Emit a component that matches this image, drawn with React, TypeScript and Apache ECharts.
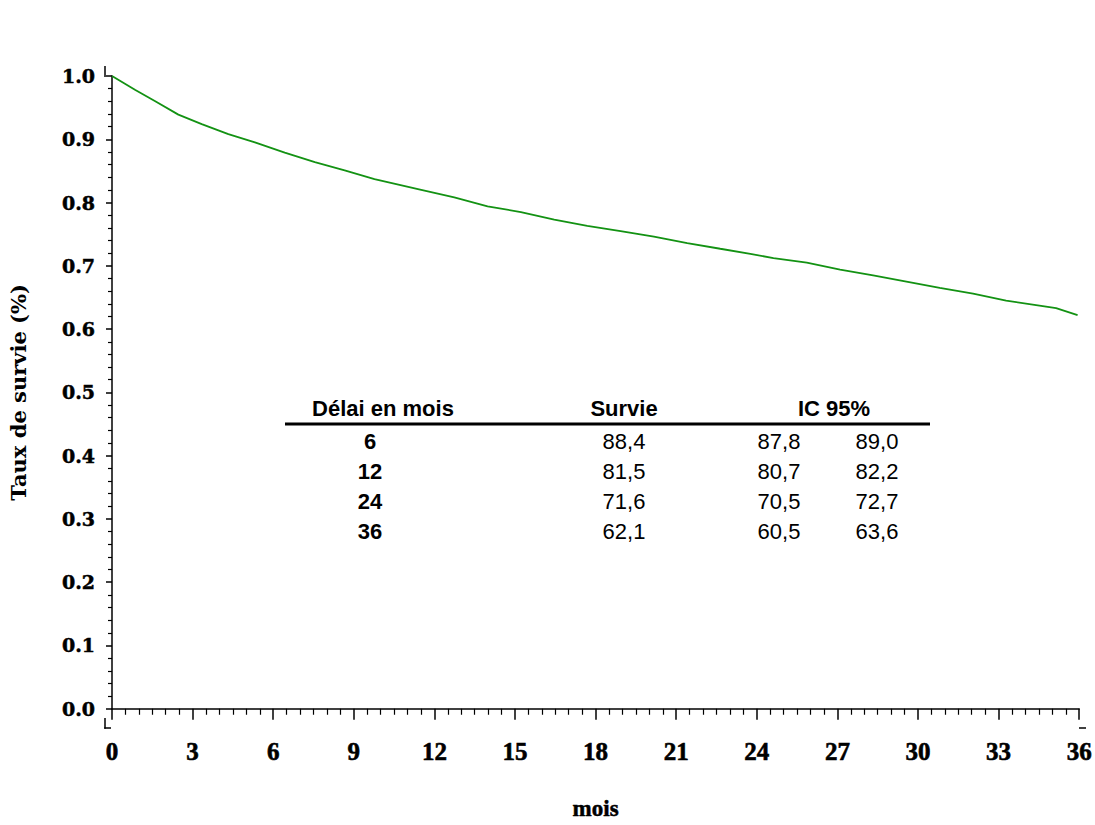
import React, { useEffect, useRef } from "react";
import * as echarts from "echarts";

const months = [0, 0.87, 1.61, 2.47, 3.34, 4.33, 5.32, 6.43, 7.55, 8.66, 9.77, 11.51, 12.74, 13.98, 15.22, 16.46, 17.69, 18.93, 20.17, 21.41, 22.64, 23.76, 24.62, 25.86, 27.1, 28.33, 29.57, 30.81, 32.05, 33.28, 34.52, 35.14, 35.94];
const survival = [1.0, 0.978, 0.96, 0.939, 0.924, 0.908, 0.895, 0.879, 0.864, 0.851, 0.837, 0.82, 0.808, 0.794, 0.785, 0.773, 0.763, 0.755, 0.746, 0.736, 0.727, 0.719, 0.712, 0.705, 0.694, 0.685, 0.675, 0.665, 0.656, 0.645, 0.637, 0.633, 0.622];

const tableHeaders = ["Délai en mois", "Survie", "IC 95%"];
const tableDelays = ["6", "12", "24", "36"];
const tableSurvie = ["88,4", "81,5", "71,6", "62,1"];
const tableLower = ["87,8", "80,7", "70,5", "60,5"];
const tableUpper = ["89,0", "82,2", "72,7", "63,6"];

const SERIF = "'Liberation Serif', 'DejaVu Serif', serif";
const WIDE_SERIF = "'DejaVu Serif', 'Liberation Serif', serif";
const SANS = "'Liberation Sans', Arial, sans-serif";

export default function App() {
  const ref = useRef<HTMLDivElement>(null);
  useEffect(() => {
    if (!ref.current) return;
    const chart = echarts.init(ref.current, null, { renderer: "svg" });

    const tableEls: any[] = [];
    const colX = [370, 624, 779, 877];
    const headerY = 408;
    const rowY0 = 441;
    const rowStep = 30.3;
    const fs = 22;
    const txt = (text: string, x: number, y: number, bold: boolean) => ({
      type: "text",
      x,
      y,
      style: { text, font: `${bold ? "bold " : ""}${fs}px ${SANS}`, fill: "#000", textAlign: "center", textVerticalAlign: "middle" },
    });
    tableEls.push(txt(tableHeaders[0], 383, headerY, true));
    tableEls.push(txt(tableHeaders[1], colX[1], headerY, true));
    tableEls.push(txt(tableHeaders[2], 834, headerY, true));
    tableEls.push({ type: "line", shape: { x1: 285, y1: 424, x2: 930, y2: 424 }, style: { stroke: "#000", lineWidth: 3 } });
    tableDelays.forEach((d, i) => {
      const y = rowY0 + i * rowStep;
      tableEls.push(txt(d, colX[0], y, true));
      tableEls.push(txt(tableSurvie[i], colX[1], y, false));
      tableEls.push(txt(tableLower[i], colX[2], y, false));
      tableEls.push(txt(tableUpper[i], colX[3], y, false));
    });

    const axisExt = [
      { type: "line", shape: { x1: 105, y1: 66, x2: 105, y2: 77 }, style: { stroke: "#000", lineWidth: 1.5 } },
      { type: "line", shape: { x1: 105, y1: 718, x2: 105, y2: 728.75 }, style: { stroke: "#000", lineWidth: 1.5 } },
      { type: "line", shape: { x1: 104.25, y1: 728, x2: 111, y2: 728 }, style: { stroke: "#000", lineWidth: 1.5 } },
      { type: "line", shape: { x1: 1079, y1: 728, x2: 1086, y2: 728 }, style: { stroke: "#000", lineWidth: 1.5 } },
    ];

    chart.setOption({
      animation: false,
      backgroundColor: "#fff",
      grid: { left: 110, right: 15, top: 76, bottom: 106, containLabel: false },
      xAxis: {
        type: "value",
        min: 0,
        max: 36,
        interval: 3,
        offset: 9,
        name: "mois",
        nameLocation: "middle",
        nameGap: 79,
        nameTextStyle: { fontFamily: SERIF, fontWeight: "bold", fontSize: 23, color: "#000", textBorderColor: "#000", textBorderWidth: 0.5 },
        axisLine: { show: true, lineStyle: { color: "#000", width: 1.5 } },
        axisTick: { show: true, length: 11, lineStyle: { color: "#000", width: 1.5 } },
        minorTick: { show: true, splitNumber: 6, length: 6, lineStyle: { color: "#000", width: 1.2 } },
        axisLabel: { fontFamily: SERIF, fontWeight: "bold", fontSize: 25, color: "#000", margin: 21, textBorderColor: "#000", textBorderWidth: 0.6 },
        splitLine: { show: false },
      },
      yAxis: {
        type: "value",
        min: 0,
        max: 1,
        interval: 0.1,
        offset: 5,
        name: "Taux de survie (%)",
        nameLocation: "middle",
        nameGap: 78,
        nameRotate: 90,
        nameTextStyle: { fontFamily: WIDE_SERIF, fontWeight: "bold", fontSize: 21, color: "#000" },
        axisLine: { show: true, lineStyle: { color: "#000", width: 1.5 } },
        axisTick: { show: true, length: 6, lineStyle: { color: "#000", width: 1.5 } },
        minorTick: { show: true, splitNumber: 5, length: 4, lineStyle: { color: "#000", width: 1.2 } },
        axisLabel: { fontFamily: WIDE_SERIF, fontWeight: "bold", fontSize: 19, color: "#000", margin: 12, textBorderColor: "#000", textBorderWidth: 0.5, formatter: (v: number) => v.toFixed(1) },
        splitLine: { show: false },
      },
      series: [
        {
          type: "line",
          data: months.map((m, i) => [m, survival[i]]),
          showSymbol: false,
          symbol: "none",
          lineStyle: { color: "#139213", width: 1.8 },
        },
      ],
      graphic: [...axisExt, ...tableEls],
    });
    return () => chart.dispose();
  }, []);
  return <div ref={ref} style={{ position: "fixed", left: 0, top: 0, width: 1095, height: 825, background: "#fff" }} />;
}
